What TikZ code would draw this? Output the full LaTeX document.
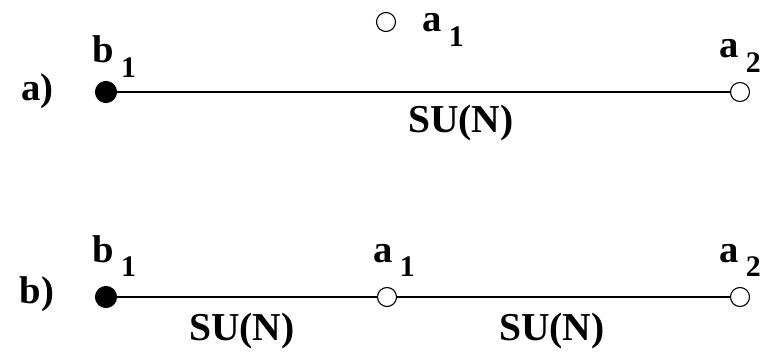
\documentclass[tikz,border=0pt]{standalone}
\usepackage{fontspec}
\setmainfont{Liberation Serif}
\usetikzlibrary{positioning}

\newcommand{\sublab}[2]{#1\hspace{4pt}\raisebox{-8pt}{\fontsize{17}{20}\selectfont #2}}

\begin{document}
\begin{tikzpicture}[
    line width=0.65pt,
    filldot/.style={circle, draw, fill=black, inner sep=0pt, minimum size=0.42cm},
    opendot/.style={circle, draw, fill=white, inner sep=0pt, minimum size=0.38cm},
    lbl/.style={anchor=base west, inner sep=0pt, font=\fontsize{22}{26}\selectfont\bfseries},
    grp/.style={anchor=base, inner sep=0pt, font=\fontsize{22.5}{27}\selectfont\bfseries}
  ]
  \useasboundingbox (0,0) rectangle (15.3,-7.22);
  % a) single link
  \node[lbl] (tagA) at (0.42,-2.0)  {a)};
  \node[filldot] (B1a) at (2.12,-1.84) {};
  \node[opendot] (A1a) at (7.72,-0.44) {};
  \node[opendot] (A2a) at (14.8,-1.84) {};
  \draw (B1a) -- (A2a);
  \node[lbl] (LB1a) at (1.84,-1.26) {\sublab{b}{1}};
  \node[lbl] (LA1a) at (8.44,-0.64) {\sublab{a}{1}};
  \node[lbl] (LA2a) at (14.38,-1.16) {\sublab{a}{2}};
  \node[grp] (GRa) at (9.22,-2.64) {SU(N)};
  % b) two links
  \node[lbl] (tagB) at (0.38,-6.06)  {b)};
  \node[filldot] (B1b) at (2.12,-5.94) {};
  \node[opendot] (A1b) at (7.74,-5.94) {};
  \node[opendot] (A2b) at (14.8,-5.94) {};
  \draw (B1b) -- (A1b) -- (A2b);
  \node[lbl] (LB1b) at (1.84,-5.24) {\sublab{b}{1}};
  \node[lbl] (LA1b) at (7.46,-5.24) {\sublab{a}{1}};
  \node[lbl] (LA2b) at (14.38,-5.24) {\sublab{a}{2}};
  \node[grp] (GRb1) at (4.84,-6.8) {SU(N)};
  \node[grp] (GRb2) at (11.04,-6.8) {SU(N)};
\end{tikzpicture}
\end{document}
